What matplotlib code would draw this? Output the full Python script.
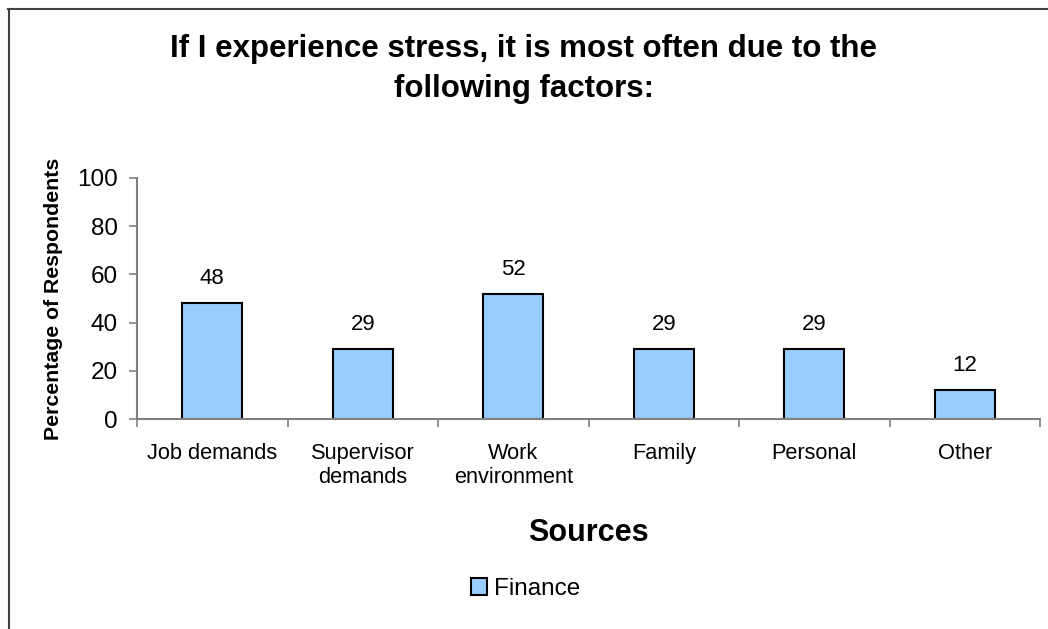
import matplotlib
matplotlib.use("Agg")
from matplotlib import pyplot as plt
from matplotlib.lines import Line2D

plt.rcParams['font.family'] = ['Liberation Sans', 'DejaVu Sans']

categories = ["Job demands", "Supervisor\ndemands", "Work\nenvironment", "Family", "Personal", "Other"]
finance = [48, 29, 52, 29, 29, 12]

fig = plt.figure(figsize=(10.48, 6.29), dpi=100)
ax = fig.add_axes([137 / 1048, 1 - 419 / 629, (1040 - 137) / 1048, (419 - 178) / 629])

x = range(len(categories))
bars = ax.bar(x, finance, width=0.4, color='#99CCFF', edgecolor='black', linewidth=1.5, label='Finance')

# value labels above bars
for i, v in enumerate(finance):
    ax.annotate(str(v), (i, v), xytext=(0, 10), textcoords='offset points',
                ha='center', va='bottom', fontsize=16)

ax.set_xlim(-0.5, len(categories) - 0.5)
ax.set_ylim(0, 100)
ax.set_yticks(range(0, 101, 20))
ax.set_xticks(x)
ax.set_xticklabels(categories, fontsize=15.7, linespacing=1.2)
ax.tick_params(axis='x', length=0, pad=17)
ax.tick_params(axis='y', labelsize=17.5, color='#808080', length=6, width=1.2, pad=8)
# separator ticks between categories
ax.set_xticks([i + 0.5 for i in range(-1, len(categories))], minor=True)
ax.tick_params(axis='x', which='minor', length=6, color='#808080', width=1.2)

for s in ['top', 'right']:
    ax.spines[s].set_visible(False)
for s in ['left', 'bottom']:
    ax.spines[s].set_color('#808080')
    ax.spines[s].set_linewidth(1.5)

ax.set_ylabel('Percentage of Respondents', fontsize=15.3, fontweight='bold', labelpad=10)
ax.set_xlabel('Sources', fontsize=22, fontweight='bold', labelpad=22)

fig.text(0.5, 1 - 69 / 629, 'If I experience stress, it is most often due to the\nfollowing factors:',
         ha='center', va='center', fontsize=22.5, fontweight='bold', linespacing=1.45)

fig.legend(handles=[bars], labels=['Finance'], loc='center', bbox_to_anchor=(526 / 1048, 1 - 589 / 629),
           frameon=False, fontsize=17.5, handlelength=0.65, handleheight=0.65, handletextpad=0.3)

# chart frame (left and top edges)
fig.add_artist(Line2D([8.5 / 1048, 8.5 / 1048], [0, 1 - 9 / 629], color='#404040', lw=1.5))
fig.add_artist(Line2D([8 / 1048, 1], [1 - 9 / 629, 1 - 9 / 629], color='#404040', lw=1.5))

plt.savefig("out.png", dpi=100)
